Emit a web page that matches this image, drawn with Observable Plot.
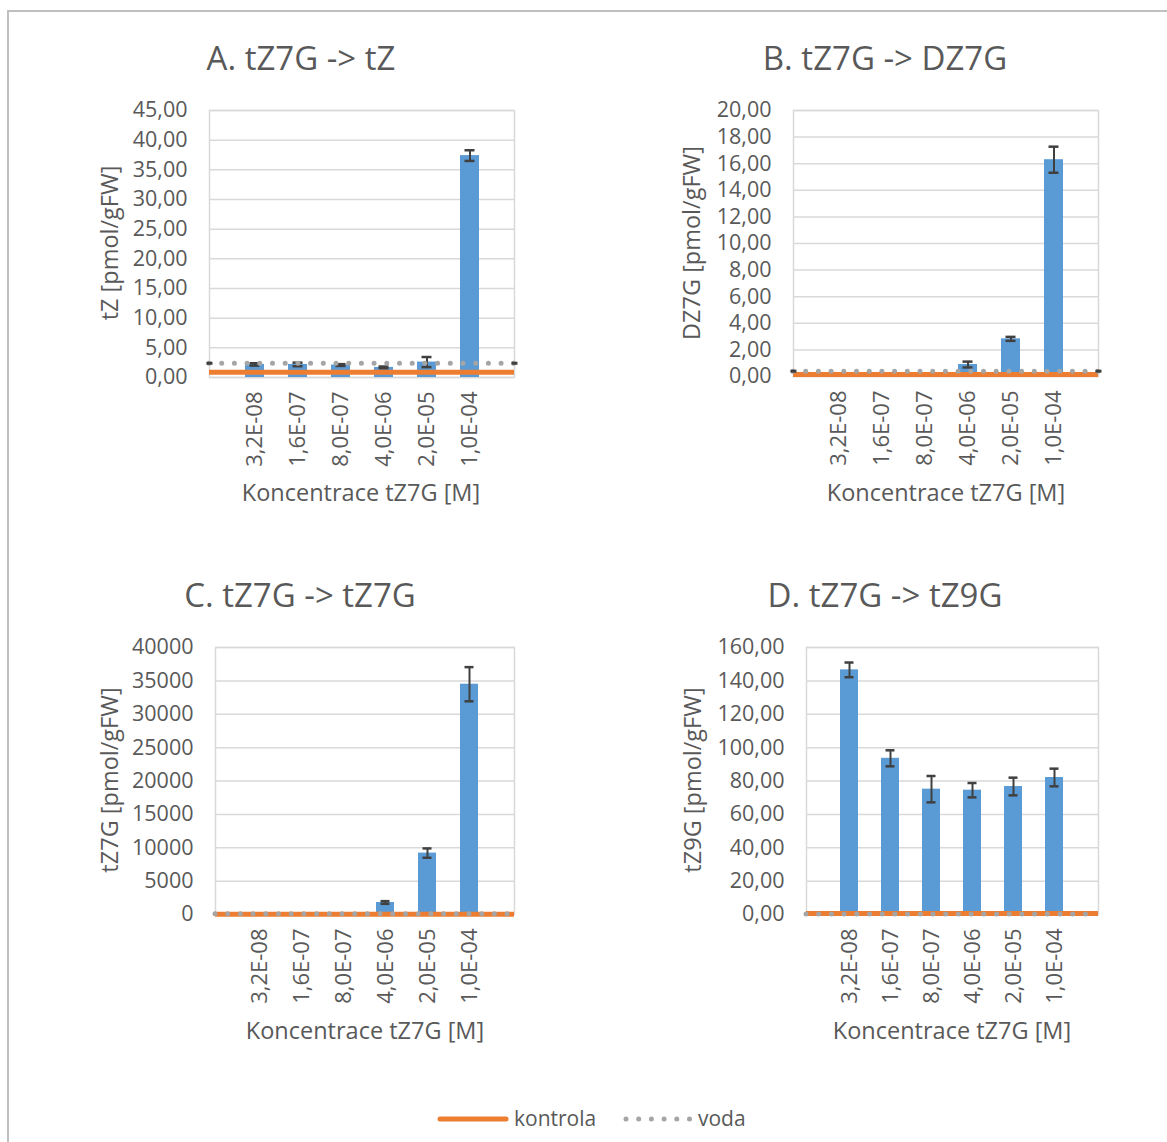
<!DOCTYPE html>
<html>
<head>
<meta charset="utf-8">
<script src="https://cdn.jsdelivr.net/npm/d3@7"></script>
<script src="https://cdn.jsdelivr.net/npm/@observablehq/plot@0.6"></script>
<style>
  body { margin: 0; background: #fff; font-family: "Open Sans", sans-serif; }
  #page { position: relative; width: 1167px; height: 1142px; overflow: hidden; background: #fff; }
  #frame { position: absolute; left: 7px; top: 10px; right: -10px; bottom: -10px;
           border-top: 2px solid #bfbfbf; border-left: 2px solid #bfbfbf; }
  .t { position: absolute; color: #595959; white-space: nowrap; transform: translate(-50%, -50%); line-height: 1; }
  .title { font-size: 33px; }
  .axt { font-size: 23.5px; }
  .rot { transform: translate(-50%, -50%) rotate(-90deg); }
  svg.panel { position: absolute; }
</style>
</head>
<body>
<div id="page"><div id="frame"></div></div>
<script>
// Concentration categories (x axis)
const concentrations = ["3,2E-08", "1,6E-07", "8,0E-07", "4,0E-06", "2,0E-05", "1,0E-04"];

// A. tZ7G -> tZ
const tZMean = [2.2, 2.2, 2.1, 1.7, 2.6, 37.4];
const tZErr = [0.2, 0.3, 0.15, 0.15, 0.85, 0.9];
// B. tZ7G -> DZ7G
const dz7gMean = [0, 0, 0, 0.9, 2.83, 16.3];
const dz7gErr = [0, 0, 0, 0.22, 0.15, 0.98];
// C. tZ7G -> tZ7G
const tz7gMean = [0, 0, 0, 1800, 9200, 34500];
const tz7gErr = [0, 0, 0, 200, 700, 2560];
// D. tZ7G -> tZ9G
const tz9gMean = [146.6, 93.6, 75.1, 74.5, 76.7, 82.1];
const tz9gErr = [4.4, 4.8, 7.9, 4.3, 5.3, 5.3];

// Reference levels per panel (A, B, C, D)
const kontrola = [0.9, 0.15, 50, 0.6];
const voda = [2.4, 0.4, 100, 0.3];

const blue = "#5b9bd5", orange = "#ed7d31", grey = "#a5a5a5", dark = "#404040", text = "#595959";
const comma2 = d => d.toFixed(2).replace(".", ",");

const page = document.getElementById("page");

function label(txt, x, y, cls) {
  const d = document.createElement("div");
  d.className = "t " + cls;
  d.textContent = txt;
  d.style.left = x + "px";
  d.style.top = y + "px";
  page.appendChild(d);
}

// Small dark cap drawn at the plot edges for the "voda" series
const capSymbol = { draw(ctx) { ctx.rect(-3, -1.5, 6, 3); } };

function panel({means, errs, k, v, yMax, yStep, fmt, px, py, pw, ph, edgeCaps}) {
  const ml = 130, mr = 20, mt = 20, mb = 110;
  const rows = concentrations.map((c, i) => ({c, v: means[i], e: errs[i]}));
  const withErr = rows.filter(d => d.e > 0);
  const ticks = d3.range(0, yMax + yStep / 2, yStep);
  const marks = [
    Plot.gridY(ticks, {stroke: "#d9d9d9", strokeOpacity: 1, strokeWidth: 1.5}),
    Plot.frame({stroke: "#d9d9d9", strokeWidth: 1.5}),
    Plot.barY(rows, {x: "c", y: "v", fill: blue}),
    Plot.ruleX(withErr, {x: "c", y1: d => d.v - d.e, y2: d => d.v + d.e, stroke: dark, strokeWidth: 2}),
    Plot.tickY(withErr, {x: "c", y: d => d.v - d.e, stroke: dark, strokeWidth: 2.5, insetLeft: 4.5, insetRight: 4.5}),
    Plot.tickY(withErr, {x: "c", y: d => d.v + d.e, stroke: dark, strokeWidth: 2.5, insetLeft: 4.5, insetRight: 4.5}),
    Plot.ruleY([k], {stroke: orange, strokeWidth: 5}),
    Plot.ruleY([v], {stroke: grey, strokeWidth: 5, strokeDasharray: "0 12.7", strokeLinecap: "round"}),
    Plot.axisY(ticks, {tickSize: 0, tickPadding: 22, tickFormat: fmt, fontSize: 21.5, label: null}),
    Plot.axisX({tickSize: 0, tickPadding: 14, tickRotate: -90, fontSize: 22, label: null})
  ];
  if (edgeCaps) {
    marks.push(Plot.dot([v], {y: d => d, frameAnchor: "left", symbol: capSymbol, fill: dark, stroke: "none"}));
    marks.push(Plot.dot([v], {y: d => d, frameAnchor: "right", symbol: capSymbol, fill: dark, stroke: "none"}));
  }
  const svg = Plot.plot({
    width: ml + pw + mr, height: mt + ph + mb,
    marginLeft: ml, marginRight: mr, marginTop: mt, marginBottom: mb,
    style: {fontFamily: "'Open Sans', sans-serif", color: text, background: "transparent", overflow: "visible"},
    x: {domain: concentrations, paddingInner: 0.56, paddingOuter: 0.78, label: null},
    y: {domain: [0, yMax], label: null},
    marks
  });
  svg.classList.add("panel");
  svg.style.left = (px - ml) + "px";
  svg.style.top = (py - mt) + "px";
  svg.style.maxWidth = "none";
  page.appendChild(svg);
}

panel({means: tZMean, errs: tZErr, k: kontrola[0], v: voda[0], yMax: 45, yStep: 5, fmt: comma2,
       px: 209, py: 110, pw: 305, ph: 267, edgeCaps: true});
panel({means: dz7gMean, errs: dz7gErr, k: kontrola[1], v: voda[1], yMax: 20, yStep: 2, fmt: comma2,
       px: 793, py: 110, pw: 305, ph: 266, edgeCaps: true});
panel({means: tz7gMean, errs: tz7gErr, k: kontrola[2], v: voda[2], yMax: 40000, yStep: 5000, fmt: d => String(d),
       px: 215, py: 647, pw: 299, ph: 267, edgeCaps: false});
panel({means: tz9gMean, errs: tz9gErr, k: kontrola[3], v: voda[3], yMax: 160, yStep: 20, fmt: comma2,
       px: 806, py: 647, pw: 292, ph: 267, edgeCaps: false});

// Titles
label("A. tZ7G -> tZ", 301, 57, "title");
label("B. tZ7G -> DZ7G", 885, 57, "title");
label("C. tZ7G -> tZ7G", 300, 594, "title");
label("D. tZ7G -> tZ9G", 885, 594, "title");

// Axis titles
label("Koncentrace tZ7G [M]", 361, 493, "axt");
label("Koncentrace tZ7G [M]", 946, 493, "axt");
label("Koncentrace tZ7G [M]", 365, 1031, "axt");
label("Koncentrace tZ7G [M]", 952, 1031, "axt");
label("tZ [pmol/gFW]", 110, 243, "axt rot");
label("DZ7G [pmol/gFW]", 692, 243, "axt rot");
label("tZ7G [pmol/gFW]", 110, 780, "axt rot");
label("tZ9G [pmol/gFW]", 693, 780, "axt rot");

// Legend
const legend = d3.create("svg")
  .attr("width", 360).attr("height", 40)
  .style("position", "absolute").style("left", "420px").style("top", "1099px")
  .style("font-family", "'Open Sans', sans-serif");
legend.append("line").attr("x1", 20).attr("x2", 86).attr("y1", 20).attr("y2", 20)
  .attr("stroke", orange).attr("stroke-width", 5).attr("stroke-linecap", "round");
legend.append("text").attr("x", 94).attr("y", 27).attr("fill", text).attr("font-size", 21).text("kontrola");
legend.append("line").attr("x1", 206).attr("x2", 273).attr("y1", 20).attr("y2", 20)
  .attr("stroke", grey).attr("stroke-width", 5).attr("stroke-linecap", "round").attr("stroke-dasharray", "0 12.7");
legend.append("text").attr("x", 278).attr("y", 27).attr("fill", text).attr("font-size", 21).text("voda");
page.appendChild(legend.node());
</script>
</body>
</html>
